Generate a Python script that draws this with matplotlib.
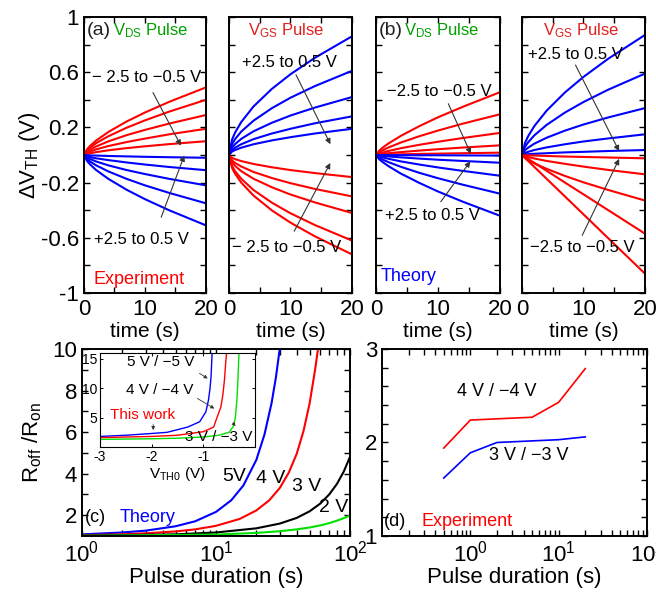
import matplotlib
matplotlib.use('Agg')
import matplotlib.pyplot as plt
import numpy as np

plt.rcParams['font.family'] = ['Liberation Sans', 'DejaVu Sans']
plt.rcParams['mathtext.fontset'] = 'custom'
plt.rcParams['mathtext.rm'] = 'Liberation Sans'
plt.rcParams['mathtext.it'] = 'Liberation Sans:italic'
plt.rcParams['axes.unicode_minus'] = False
plt.rcParams['xtick.direction'] = 'in'
plt.rcParams['ytick.direction'] = 'in'
plt.rcParams['xtick.top'] = True
plt.rcParams['ytick.right'] = True
plt.rcParams['axes.linewidth'] = 1.4

RED = '#ff0000'
BLUE = '#0000ff'
GREEN = '#00a000'
LGREEN = '#00e000'

# ---- top row: threshold shift vs time ----
t_top = [0, 0.5, 1, 2, 4, 7, 10, 14, 20]

exp_vds_red = [
    [0, .041, .066, .105, .167, .243, .308, .386, .49],
    [0, .034, .054, .086, .136, .198, .251, .315, .40],
    [0, .024, .039, .062, .099, .144, .182, .228, .29],
    [0, .016, .025, .041, .065, .094, .119, .150, .19],
    [0, .008, .013, .021, .034, .050, .063, .079, .10],
]
exp_vds_blue = [
    [0, -.002, -.003, -.004, -.007, -.010, -.013, -.016, -.02],
    [0, -.009, -.015, -.024, -.037, -.054, -.069, -.087, -.11],
    [0, -.018, -.029, -.047, -.075, -.109, -.138, -.173, -.22],
    [0, -.029, -.047, -.075, -.119, -.173, -.220, -.275, -.35],
    [0, -.043, -.068, -.109, -.173, -.252, -.320, -.401, -.51],
]
exp_vgs_blue = [
    [0, .111, .163, .239, .352, .480, .585, .705, .86],
    [0, .079, .115, .170, .249, .340, .415, .500, .61],
    [0, .054, .079, .117, .172, .234, .286, .344, .42],
    [0, .036, .053, .078, .115, .156, .190, .230, .28],
    [0, .025, .036, .053, .078, .106, .129, .156, .19],
]
exp_vgs_red = [
    [0, -.021, -.030, -.044, -.065, -.089, -.109, -.131, -.16],
    [0, -.039, -.057, -.083, -.123, -.167, -.204, -.246, -.30],
    [0, -.054, -.079, -.117, -.172, -.234, -.286, -.344, -.42],
    [0, -.080, -.117, -.172, -.254, -.346, -.422, -.508, -.62],
    [0, -.093, -.136, -.200, -.294, -.402, -.490, -.590, -.72],
]
th_vds_red = [
    [0, .030, .050, .083, .138, .209, .273, .349, .455],
    [0, .019, .032, .054, .090, .136, .177, .227, .295],
    [0, .010, .017, .029, .049, .074, .096, .123, .16],
    [0, .005, .008, .013, .021, .032, .042, .054, .07],
    [0, .001, .002, .003, .005, .008, .010, .013, .017],
]
th_vds_blue = [
    [0, 0, 0, -.001, -.001, -.002, -.002, -.003, -.004],
    [0, -.004, -.006, -.010, -.017, -.026, -.034, -.043, -.056],
    [0, -.010, -.016, -.027, -.046, -.069, -.090, -.115, -.15],
    [0, -.018, -.031, -.051, -.085, -.129, -.168, -.215, -.28],
    [0, -.029, -.048, -.080, -.134, -.202, -.264, -.338, -.44],
]
th_vgs_blue = [
    [0, .089, .136, .209, .321, .454, .566, .697, .87],
    [0, .060, .092, .142, .218, .308, .384, .473, .59],
    [0, .035, .053, .082, .125, .177, .221, .272, .34],
    [0, .015, .023, .036, .055, .078, .098, .120, .15],
    [0, .004, .006, .009, .013, .019, .023, .029, .036],
]
th_vgs_red = [
    [0, -.002, -.003, -.004, -.007, -.011, -.014, -.018, -.024],
    [0, -.009, -.015, -.025, -.043, -.064, -.084, -.108, -.14],
    [0, -.021, -.036, -.060, -.100, -.152, -.198, -.253, -.33],
    [0, -.014, -.029, -.057, -.114, -.200, -.285, -.399, -.57],
    [0, -.022, -.043, -.086, -.172, -.301, -.430, -.602, -.86],
]

# ---- (c) theory: Roff/Ron vs pulse duration ----
t_5v = [1, 2, 3, 5, 7, 10, 13, 16, 20, 23, 26, 28, 30]
r_5v = [1.08, 1.17, 1.26, 1.47, 1.71, 2.16, 2.72, 3.43, 4.66, 5.88, 7.40, 8.63, 10.07]
t_4v = [1, 2, 3, 5, 7, 10, 15, 20, 25, 30, 35, 40, 45, 50, 55, 58]
r_4v = [1.04, 1.08, 1.13, 1.22, 1.32, 1.49, 1.82, 2.23, 2.72, 3.32, 4.06, 4.95, 6.05, 7.39, 9.03, 10.1]
t_3v = [1, 5, 10, 20, 30, 40, 50, 60, 70, 80, 90, 100]
r_3v = [1.02, 1.08, 1.17, 1.37, 1.60, 1.87, 2.19, 2.56, 3.00, 3.51, 4.11, 4.81]
t_2v = [1, 10, 20, 30, 40, 50, 60, 70, 80, 90, 100]
r_2v = [1.01, 1.07, 1.15, 1.23, 1.32, 1.41, 1.51, 1.62, 1.74, 1.86, 1.99]

# inset: Roff/Ron vs VTH0
vth_5 = [-3, -2.5, -2, -1.7, -1.3, -1.07, -0.95, -0.9, -0.87, -0.85, -0.83]
ri_5 = [1.8, 2.0, 2.3, 2.5, 3.4, 4.3, 6.0, 8.0, 10, 12, 16]
vth_4 = [-3, -2.5, -2, -1.5, -1.0, -0.8, -0.74, -0.66, -0.62, -0.59, -0.57, -0.55]
ri_4 = [1.6, 1.7, 1.8, 2.0, 2.6, 3.4, 4.9, 6.8, 9.0, 11.5, 14, 16]
vth_3 = [-3, -2, -1.5, -1.0, -0.7, -0.5, -0.42, -0.38, -0.35, -0.33, -0.31]
ri_3 = [1.3, 1.4, 1.5, 1.7, 2.0, 2.5, 3.5, 5.0, 8.0, 11.5, 16]

# ---- (d) experiment ----
t_d4 = [0.5, 1, 5, 10, 20]
r_d4 = [1.94, 2.24, 2.27, 2.43, 2.79]
t_d3 = [0.5, 1, 2, 10, 20]
r_d3 = [1.62, 1.89, 2.0, 2.03, 2.06]

fig = plt.figure(figsize=(6.56, 5.93), dpi=100)

top_lefts = [0.128, 0.349, 0.573, 0.7957]
top_widths = [0.186, 0.1875, 0.189, 0.1875]
top_data = [(exp_vds_red, exp_vds_blue), (exp_vgs_blue, exp_vgs_red),
            (th_vds_red, th_vds_blue), (th_vgs_blue, th_vgs_red)]
top_cols = [(RED, BLUE), (BLUE, RED), (RED, BLUE), (BLUE, RED)]

axes_top = []
for i in range(4):
    ax = fig.add_axes([top_lefts[i], 0.5059, top_widths[i], 0.4654])
    g1, g2 = top_data[i]
    c1, c2 = top_cols[i]
    for y in g1:
        ax.plot(t_top, y, color=c1, lw=1.5)
    for y in g2:
        ax.plot(t_top, y, color=c2, lw=1.5)
    ax.set_xlim(0, 20)
    ax.set_ylim(-1, 1)
    ax.set_xticks([0, 10, 20])
    ax.set_xticks([5, 15], minor=True)
    ax.set_yticks([-1, -0.6, -0.2, 0.2, 0.6, 1])
    ax.set_yticks([-0.8, -0.4, 0, 0.4, 0.8], minor=True)
    ax.tick_params(which='both', length=4, width=1, labelsize=16, top=True, right=True)
    ax.tick_params(axis='x', pad=4)
    ax.set_xlabel('time (s)', fontsize=15, labelpad=2)
    if i == 0:
        ax.set_yticklabels(['-1', '-0.6', '-0.2', '0.2', '0.6', '1'])
        ax.set_ylabel('Δ$\\mathrm{V_{TH}}$ (V)', fontsize=16, labelpad=-1)
    else:
        ax.set_yticklabels([])
    axes_top.append(ax)

arrow = dict(arrowstyle='-|>', color='#333333', lw=0.8, mutation_scale=8)

ax = axes_top[0]
ax.text(0.5, 0.9, '(a)', fontsize=14, color='#222222', va='center')
ax.text(4.7, 0.9, '$\\mathrm{V_{DS}}$ Pulse', fontsize=12, color=GREEN, va='center')
ax.text(10.2, 0.565, '− 2.5 to −0.5 V', fontsize=12, ha='center', va='center')
ax.text(9.4, -0.61, '+2.5 to 0.5 V', fontsize=12, ha='center', va='center')
ax.text(1.5, -0.9, 'Experiment', fontsize=13, color=RED, va='center')
ax.annotate('', xy=(16.1, 0.05), xytext=(11.1, 0.47), arrowprops=arrow)
ax.annotate('', xy=(16.6, 0.015), xytext=(12.5, -0.47), arrowprops=arrow)

ax = axes_top[1]
ax.text(3.1, 0.9, '$\\mathrm{V_{GS}}$ Pulse', fontsize=12, color='#e02020', va='center')
ax.text(9.9, 0.67, '+2.5 to 0.5 V', fontsize=12, ha='center', va='center')
ax.text(9.4, -0.67, '− 2.5 to −0.5 V', fontsize=12, ha='center', va='center')
ax.annotate('', xy=(16.7, 0.06), xytext=(10.7, 0.60), arrowprops=arrow)
ax.annotate('', xy=(16.7, -0.04), xytext=(10.4, -0.57), arrowprops=arrow)

ax = axes_top[2]
ax.text(0.4, 0.9, '(b)', fontsize=14, color='#222222', va='center')
ax.text(4.6, 0.9, '$\\mathrm{V_{DS}}$ Pulse', fontsize=12, color=GREEN, va='center')
ax.text(10.2, 0.46, '−2.5 to −0.5 V', fontsize=12, ha='center', va='center')
ax.text(9.2, -0.44, '+2.5 to 0.5 V', fontsize=12, ha='center', va='center')
ax.text(0.8, -0.88, 'Theory', fontsize=13, color=BLUE, va='center')
ax.annotate('', xy=(15.5, -0.01), xytext=(11.5, 0.39), arrowprops=arrow)
ax.annotate('', xy=(15.5, -0.03), xytext=(10.2, -0.355), arrowprops=arrow)

ax = axes_top[3]
ax.text(3.4, 0.9, '$\\mathrm{V_{GS}}$ Pulse', fontsize=12, color='#e02020', va='center')
ax.text(8.7, 0.725, '+2.5 to 0.5 V', fontsize=12, ha='center', va='center')
ax.text(9.8, -0.67, '−2.5 to −0.5 V', fontsize=12, ha='center', va='center')
ax.annotate('', xy=(16.0, 0.01), xytext=(8.5, 0.67), arrowprops=arrow)
ax.annotate('', xy=(16.0, -0.01), xytext=(9.6, -0.60), arrowprops=arrow)

# ---- (c) ----
axc = fig.add_axes([0.125, 0.0961, 0.4085, 0.3154])
axc.plot(t_5v, r_5v, color=BLUE, lw=1.5)
axc.plot(t_4v, r_4v, color=RED, lw=1.5)
axc.plot(t_3v, r_3v, color='black', lw=1.5)
axc.plot(t_2v, r_2v, color=LGREEN, lw=1.5)
axc.set_xscale('log')
axc.set_xlim(1, 100)
axc.set_ylim(1, 10)
axc.set_yticks([2, 4, 6, 8, 10])
axc.set_yticks([3, 5, 7, 9], minor=True)
axc.tick_params(which='both', length=4, width=1, labelsize=16, top=True, right=True)
axc.set_xlabel('Pulse duration (s)', fontsize=16, labelpad=0)
axc.set_ylabel('$\\mathrm{R_{off}}$ /$\\mathrm{R_{on}}$', fontsize=16, labelpad=6)
axc.text(13.6, 3.84, '5V', fontsize=14, ha='center', va='center')
axc.text(25.7, 3.75, '4 V', fontsize=14, ha='center', va='center')
axc.text(47.6, 3.36, '3 V', fontsize=14, ha='center', va='center')
axc.text(76, 2.35, '2 V', fontsize=14, ha='center', va='center')
axc.text(1.05, 1.9, '(c)', fontsize=13, va='center')
axc.text(1.92, 1.9, 'Theory', fontsize=13, color=BLUE, va='center')

# inset
axi = fig.add_axes([0.1524, 0.2462, 0.2363, 0.1585])
axi.plot(vth_5, ri_5, color=BLUE, lw=1)
axi.plot(vth_4, ri_4, color=RED, lw=1)
axi.plot(vth_3, ri_3, color=LGREEN, lw=1)
axi.set_xlim(-3, 0)
axi.set_ylim(0, 16)
axi.set_xticks([-3, -2, -1])
axi.set_yticks([5, 10, 15])
for s in axi.spines.values():
    s.set_linewidth(0.8)
axi.tick_params(length=2.5, width=0.7, labelsize=10, pad=2, top=True, right=True)
axi.set_xlabel('$\\mathrm{V_{TH0}}$ (V)', fontsize=11, labelpad=1)
axi.text(-1.82, 14.5, '5 V / −5 V', fontsize=11, ha='center', va='center')
axi.text(-1.84, 9.7, '4 V / −4 V', fontsize=11, ha='center', va='center')
axi.text(-2.17, 5.4, 'This work', fontsize=11, color=RED, ha='center', va='center')
axi.text(-0.70, 1.7, '3 V / −3 V', fontsize=11, ha='center', va='center')
small = dict(arrowstyle='-|>', color='#333333', lw=0.6, mutation_scale=5)
axi.annotate('', xy=(-0.87, 11.4), xytext=(-1.12, 12.8), arrowprops=small)
axi.annotate('', xy=(-0.74, 6.3), xytext=(-1.16, 8.5), arrowprops=small)
axi.annotate('', xy=(-1.97, 2.4), xytext=(-1.97, 4.3), arrowprops=small)
axi.annotate('', xy=(-0.34, 3.2), xytext=(-0.43, 4.1), arrowprops=small)

# ---- (d) ----
axd = fig.add_axes([0.5823, 0.0961, 0.404, 0.3154])
axd.plot(t_d4, r_d4, color=RED, lw=1.2)
axd.plot(t_d3, r_d3, color=BLUE, lw=1.2)
axd.set_xscale('log')
axd.set_xlim(0.1, 100)
axd.set_ylim(1, 3)
axd.set_xticks([1, 10, 100])
axd.set_yticks([1, 2, 3])
axd.set_yticks(np.arange(1.2, 3.0, 0.2), minor=True)
axd.tick_params(which='both', length=4, width=1, labelsize=16, top=True, right=True)
axd.set_xlabel('Pulse duration (s)', fontsize=16, labelpad=0)
axd.text(2.0, 2.54, '4 V / −4 V', fontsize=13, ha='center', va='center')
axd.text(4.6, 1.86, '3 V / −3 V', fontsize=13, ha='center', va='center')
axd.text(0.105, 1.15, '(d)', fontsize=13, va='center')
axd.text(0.28, 1.15, 'Experiment', fontsize=13, color=RED, va='center')

fig.savefig('out.png', dpi=100)
